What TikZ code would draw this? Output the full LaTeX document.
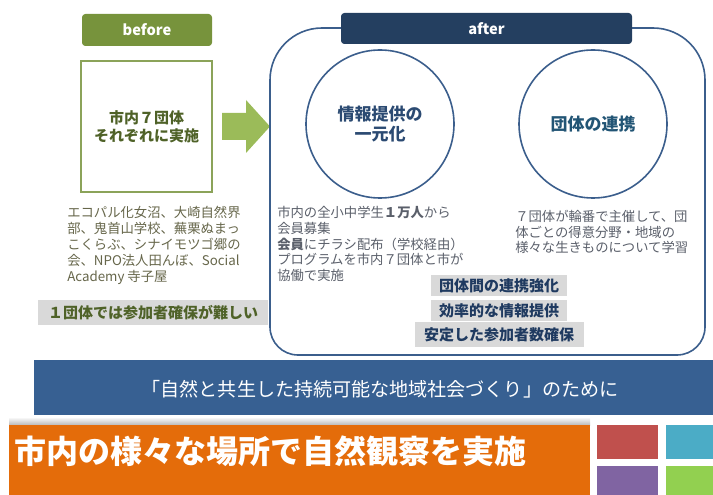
\documentclass[tikz,border=0pt]{standalone}
\usepackage{fontspec}
\setmainfont{Noto Sans CJK JP}
\usetikzlibrary{positioning}
\definecolor{beforegreen}{HTML}{77933C}
\definecolor{arrowgreen}{HTML}{9BBB59}
\definecolor{olivetext}{HTML}{4F6228}
\definecolor{olivegray}{HTML}{66664A}
\definecolor{afternavy}{HTML}{243F60}
\definecolor{afterblue}{HTML}{3B5E8C}
\definecolor{circtext}{HTML}{2B4A72}
\definecolor{bodygray}{HTML}{5A5F6A}
\definecolor{notegray}{HTML}{D9D9D9}
\definecolor{notetext}{HTML}{1F3A60}
\definecolor{bandblue}{HTML}{376092}
\definecolor{bandorange}{HTML}{E46C0A}
\definecolor{tilered}{HTML}{C0504D}
\definecolor{tilecyan}{HTML}{4BACC6}
\definecolor{tilepurple}{HTML}{8064A2}
\definecolor{tilegreen}{HTML}{92D050}
\tikzstyle{header} = [rectangle, rounded corners=2.5pt, text=white, text centered, inner sep=0pt, font=\bfseries\fontsize{11pt}{13pt}\selectfont]
\tikzstyle{circ} = [circle, draw=afterblue, line width=1.2pt, minimum size=111pt, inner sep=0pt, align=center, font=\bfseries\fontsize{12.75pt}{15pt}\selectfont]
\tikzstyle{para} = [anchor=north west, align=left, inner sep=0pt, font=\fontsize{10pt}{11.8pt}\selectfont]
\tikzstyle{note} = [rectangle, fill=notegray, inner sep=0pt, text centered, font=\bfseries\fontsize{11.25pt}{13pt}\selectfont]
\tikzstyle{tile} = [rectangle, inner sep=0pt, anchor=north west]

\begin{document}
\begin{tikzpicture}[x=0.75pt, y=-0.75pt]
            \useasboundingbox (0,0) rectangle (713,495);
            % before
            \node (before) [header, fill=beforegreen, minimum width=97.5pt, minimum height=24pt] at (147,30) {before};
            \node (seven) [rectangle, draw=beforegreen!85!white, line width=1.5pt, minimum width=98.25pt, minimum height=98.25pt, align=center, text=olivetext, font=\bfseries\fontsize{11.25pt}{13.5pt}\selectfont] at (146.5,126.5) {市内７団体\\それぞれに実施};
            \node (groups) [para, text=olivegray, font=\fontsize{10pt}{12pt}\selectfont] at (67,206) {
                エコパル化女沼、大崎自然界\\
                部、鬼首山学校、蕪栗ぬまっ\\
                こくらぶ、シナイモツゴ郷の\\
                会、NPO法人田んぼ、Social\\
                Academy 寺子屋
            };
            \node (hard) [note, text=olivetext, minimum width=172.5pt, minimum height=18.75pt] at (153,312.5) {１団体では参加者確保が難しい};
            \fill [arrowgreen] (222,113) -- (246,113) -- (246,100) -- (270,126.5) -- (246,153) -- (246,140) -- (222,140) -- cycle;
            % after
            \draw [afterblue, line width=1.2pt] (270,200) [rounded corners=39pt] |- (487,28) -| (705,200) [rounded corners=21pt] |- (487,355) -| (270,200) -- cycle;
            \node (after) [header, fill=afternavy, minimum width=218.25pt, minimum height=23.25pt] at (486.5,28.5) {after};
            \node (info) [circ, text=circtext] at (380,124) {情報提供の\\一元化};
            \node (link) [circ, text=circtext!80!teal] at (593,124) {団体の連携};
            \node (members) [para, text=bodygray] at (277,206) {
                市内の全小中学生\textbf{１万人}から\\
                会員募集\\
                \textbf{会員}にチラシ配布（学校経由）\\
                プログラムを市内７団体と市が\\
                協働で実施
            };
            \node (study) [para, text=bodygray, font=\fontsize{10pt}{11.6pt}\selectfont] at (515,210) {
                ７団体が輪番で主催して、団\\
                体ごとの得意分野・地域の\\
                様々な生きものについて学習
            };
            \node (coop) [note, text=notetext, minimum width=102pt, minimum height=15.75pt] at (499,285.5) {団体間の連携強化};
            \node (effic) [note, text=notetext, minimum width=102pt, minimum height=15.75pt, below of = coop, node distance=18.75pt] {効率的な情報提供};
            \node (stable) [note, text=notetext, minimum width=126.75pt, minimum height=18.75pt, below of = effic, node distance=18pt] {安定した参加者数確保};
            % bands
            \node (goal) [rectangle, fill=bandblue, minimum width=509.25pt, minimum height=41.25pt, inner sep=0pt] at (373.5,387.5) {};
            \node [text=white, font=\fontsize{14.3pt}{16pt}\selectfont] at (380,389) {「自然と共生した持続可能な地域社会づくり」のために};
            \shade [top color=white, bottom color=gray!55] (9,417) rectangle (590,425);
            \node (title) [rectangle, fill=bandorange, minimum width=435.75pt, minimum height=52.5pt, inner sep=0pt, anchor=north west] at (9,425) {};
            \node [text=white, anchor=west, inner sep=0pt, font=\bfseries\fontsize{24pt}{28pt}\selectfont] at (14,451) {市内の様々な場所で自然観察を実施};
            \node [tile, fill=tilered, minimum width=45.75pt, minimum height=25.5pt] at (597,425) {};
            \node [tile, fill=tilecyan, minimum width=35.25pt, minimum height=25.5pt] at (666,425) {};
            \node [tile, fill=tilepurple, minimum width=45.75pt, minimum height=21.75pt] at (597,466) {};
            \node [tile, fill=tilegreen, minimum width=35.25pt, minimum height=21.75pt] at (666,466) {};
        \end{tikzpicture}
\end{document}
